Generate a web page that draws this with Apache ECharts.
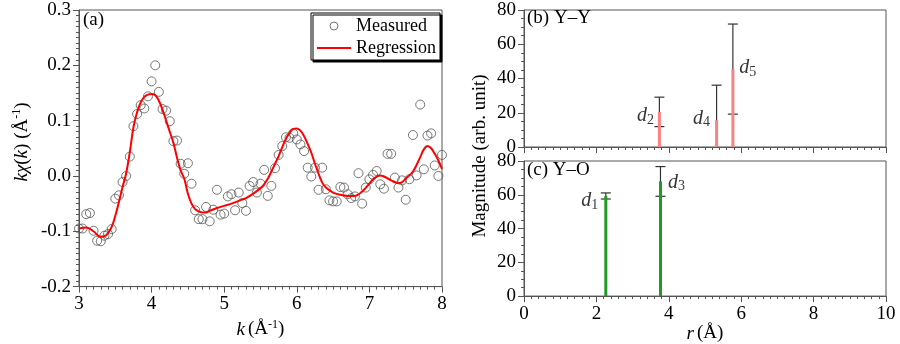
<!DOCTYPE html>
<html><head><meta charset="utf-8">
<script src="https://cdn.jsdelivr.net/npm/echarts@6/dist/echarts.min.js"></script>
<style>html,body{margin:0;padding:0;background:#fff}#c{width:900px;height:344px}</style>
</head><body><div id="c"></div>
<script>
// ---- data ----
const kMeasured = [3.00,3.05,3.10,3.15,3.20,3.25,3.30,3.35,3.40,3.45,3.50,3.55,3.60,3.65,3.70,3.75,3.80,3.85,3.90,3.95,
4.00,4.05,4.10,4.15,4.20,4.25,4.30,4.35,4.40,4.45,4.50,4.55,4.60,4.65,4.70,4.75,4.80,4.85,4.90,4.95,
5.00,5.05,5.10,5.15,5.20,5.25,5.30,5.35,5.40,5.45,5.50,5.55,5.60,5.65,5.70,5.75,5.80,5.85,5.90,5.95,
6.00,6.05,6.10,6.15,6.20,6.25,6.30,6.35,6.40,6.45,6.50,6.55,6.60,6.65,6.70,6.75,6.80,6.85,6.90,6.95,
7.00,7.05,7.10,7.15,7.20,7.25,7.30,7.35,7.40,7.45,7.50,7.55,7.60,7.65,7.70,7.75,7.80,7.85,7.90,7.95,8.00];
const chiMeasured = [-0.095,-0.095,-0.069,-0.067,-0.099,-0.117,-0.118,-0.108,-0.105,-0.096,-0.041,-0.035,-0.011,0.000,0.035,0.090,0.112,0.128,0.122,0.144,
0.171,0.200,0.152,0.121,0.118,0.099,0.063,0.064,0.022,0.004,0.023,-0.014,-0.062,-0.078,-0.078,-0.056,-0.082,-0.061,-0.025,-0.070,
-0.068,-0.037,-0.033,-0.062,-0.030,-0.049,-0.063,-0.018,-0.011,-0.030,-0.014,0.011,-0.036,-0.018,0.014,0.038,0.054,0.070,0.069,0.077,
0.066,0.057,0.045,0.015,-0.001,0.015,-0.025,0.015,-0.024,-0.044,-0.046,-0.046,-0.020,-0.021,-0.033,-0.040,-0.037,0.005,-0.050,-0.021,
-0.006,0.002,0.009,-0.015,-0.023,0.040,0.040,-0.003,-0.021,-0.008,-0.043,-0.006,0.074,0.001,0.129,0.012,0.073,0.077,0.019,0.000,0.038];
const kFit = [3.00,3.10,3.20,3.30,3.35,3.40,3.45,3.50,3.55,3.60,3.65,3.70,3.75,3.80,3.85,3.90,3.95,4.00,4.05,4.10,4.15,4.20,4.25,4.30,4.35,4.40,4.45,4.50,4.55,4.60,4.65,4.70,4.75,4.80,4.90,5.00,5.10,5.20,5.30,5.40,5.50,5.55,5.60,5.65,5.70,5.75,5.80,5.85,5.90,5.95,6.00,6.05,6.10,6.15,6.20,6.25,6.30,6.35,6.40,6.50,6.60,6.70,6.80,6.90,7.00,7.05,7.10,7.15,7.20,7.30,7.40,7.45,7.50,7.60,7.70,7.75,7.80,7.85,7.90,7.95,8.00];
const chiFit = [-0.095,-0.093,-0.100,-0.110,-0.109,-0.103,-0.092,-0.072,-0.047,-0.020,0.005,0.043,0.088,0.115,0.133,0.143,0.147,0.148,0.146,0.136,0.120,0.100,0.080,0.060,0.033,0.010,-0.005,-0.032,-0.050,-0.060,-0.064,-0.066,-0.066,-0.063,-0.058,-0.054,-0.050,-0.045,-0.040,-0.032,-0.022,-0.015,-0.005,0.008,0.022,0.036,0.052,0.067,0.078,0.085,0.086,0.082,0.072,0.058,0.042,0.022,0.004,-0.012,-0.021,-0.030,-0.034,-0.036,-0.036,-0.028,-0.014,-0.006,-0.001,0.001,-0.001,-0.008,-0.013,-0.011,-0.005,0.008,0.034,0.048,0.054,0.050,0.040,0.028,0.013];
const rYY = [3.74,5.32,5.77];
const magYY = [20.5,15.6,45.5];
const errYY = [8.6,20.5,26.3];
const labYY = ['2','4','5'];
const rYO = [2.26,3.77];
const magYO = [59.3,67.9];
const errYO = [1.8,8.8];
const labYO = ['1','3'];
const kTicks = [3,4,5,6,7,8];
const chiTicks = ['-0.2','-0.1','0.0','0.1','0.2','0.3'];
const rTicks = [0,2,4,6,8,10];
const magTicks = [0,20,40,60,80];

// ---- chart ----
const FF = '"Liberation Serif", "Times New Roman", serif';
const AX = '#555';
const chart = echarts.init(document.getElementById('c'), null, {renderer:'canvas'});
const measuredData = kMeasured.map((k,i)=>[k, chiMeasured[i]]);
const fitData = kFit.map((k,i)=>[k, chiFit[i]]);
const yyData = rYY.map((r,i)=>[r, magYY[i], errYY[i], labYY[i]]);
const yoData = rYO.map((r,i)=>[r, magYO[i], errYO[i], labYO[i]]);

function axisCommon(){
  return {
    axisLine:{show:true, onZero:false, lineStyle:{color:AX, width:1}},
    axisTick:{show:true, inside:false, length:6, lineStyle:{color:AX}},
    minorTick:{show:true, length:3, lineStyle:{color:AX}},
    splitLine:{show:false},
    axisLabel:{fontFamily:FF, fontSize:19, color:'#000'}
  };
}
const subRich = {
  d:{fontFamily:FF, fontStyle:'italic', fontSize:20, color:'#000', lineHeight:22},
  s:{fontFamily:FF, fontSize:14, color:'#000', lineHeight:12, verticalAlign:'bottom'}
};
function errRender(params, api){
  const x = api.value(0), v = api.value(1), e = api.value(2);
  const hi = v + e, lo = v - e;
  const pHi = api.coord([x, hi]);
  const pLo = api.coord([x, Math.max(lo, 0)]);
  const cw = 5;
  const st = {stroke:'#333', lineWidth:1.2};
  const ch = [
    {type:'line', shape:{x1:pHi[0], y1:pHi[1], x2:pLo[0], y2:pLo[1]}, style:st},
    {type:'line', shape:{x1:pHi[0]-cw, y1:pHi[1], x2:pHi[0]+cw, y2:pHi[1]}, style:st}
  ];
  if (lo > 0) ch.push({type:'line', shape:{x1:pLo[0]-cw, y1:pLo[1], x2:pLo[0]+cw, y2:pLo[1]}, style:st});
  return {type:'group', children:ch};
}

const xa0 = Object.assign(axisCommon(), {gridIndex:0, type:'value', min:kTicks[0], max:kTicks[kTicks.length-1], interval:1,
  minorTick:{show:true, splitNumber:10, length:3, lineStyle:{color:AX}},
  name:'{i|k} {n|(Å}{sup|-1}{n|)}', nameLocation:'middle', nameGap:26,
  nameTextStyle:{rich:{
    i:{fontFamily:FF, fontStyle:'italic', fontSize:19, color:'#000', lineHeight:22},
    n:{fontFamily:FF, fontSize:19, color:'#000', lineHeight:22},
    sup:{fontFamily:FF, fontSize:12, color:'#000', lineHeight:10, verticalAlign:'top'}}}});
const xa1 = Object.assign(axisCommon(), {gridIndex:1, type:'value', min:rTicks[0], max:rTicks[rTicks.length-1], interval:2,
  minorTick:{show:true, splitNumber:10, length:3, lineStyle:{color:AX}}});
xa1.axisLabel = {show:false};
const xa2 = Object.assign(axisCommon(), {gridIndex:2, type:'value', min:rTicks[0], max:rTicks[rTicks.length-1], interval:2,
  minorTick:{show:true, splitNumber:10, length:3, lineStyle:{color:AX}},
  name:'{i|r} {n|(Å)}', nameLocation:'middle', nameGap:26,
  nameTextStyle:{rich:{
    i:{fontFamily:FF, fontStyle:'italic', fontSize:19, color:'#000', lineHeight:22},
    n:{fontFamily:FF, fontSize:19, color:'#000', lineHeight:22}}}});
const ya0 = Object.assign(axisCommon(), {gridIndex:0, type:'value', min:Number(chiTicks[0]), max:Number(chiTicks[chiTicks.length-1]), interval:0.1,
  minorTick:{show:true, splitNumber:10, length:3, lineStyle:{color:AX}}});
ya0.axisLabel = {fontFamily:FF, fontSize:19, color:'#000', formatter:v=>v.toFixed(1)};
const ya1 = Object.assign(axisCommon(), {gridIndex:1, type:'value', min:magTicks[0], max:magTicks[magTicks.length-1], interval:20,
  minorTick:{show:true, splitNumber:4, length:3, lineStyle:{color:AX}}});
const ya2 = Object.assign(axisCommon(), {gridIndex:2, type:'value', min:magTicks[0], max:magTicks[magTicks.length-1], interval:20,
  minorTick:{show:true, splitNumber:4, length:3, lineStyle:{color:AX}}});

const option = {
  animation:false,
  backgroundColor:'#fff',
  textStyle:{fontFamily:FF},
  grid:[
    {left:79, top:10, width:363, height:288, show:true, borderColor:AX, borderWidth:1, backgroundColor:'transparent'},
    {left:524, top:10, width:362, height:137, show:true, borderColor:AX, borderWidth:1, backgroundColor:'transparent'},
    {left:524, top:161, width:362, height:137, show:true, borderColor:AX, borderWidth:1, backgroundColor:'transparent'}
  ],
  xAxis:[xa0, xa1, xa2],
  yAxis:[ya0, ya1, ya2],
  legend:{
    data:[
      {name:'Measured', icon:'circle', itemStyle:{color:'#fff', borderColor:'#555', borderWidth:1}},
      {name:'Regression', icon:'path://M0,0 L34,0 L34,2.2 L0,2.2 Z', itemStyle:{color:'#ff0000'}}
    ],
    orient:'vertical', left:311, top:13,
    itemWidth:34, itemHeight:8, itemGap:4,
    padding:[4,4,3,6],
    backgroundColor:'#fff', borderColor:'#000', borderWidth:1,
    shadowColor:'#000', shadowOffsetX:2, shadowOffsetY:2, shadowBlur:0.1,
    textStyle:{fontFamily:FF, fontSize:18, color:'#000'}
  },
  graphic:[
    {type:'text', left:83, top:11, style:{text:'(a)', font:'19px "Liberation Serif"', fill:'#000'}},
    {type:'text', left:527, top:9, style:{text:'(b) Y–Y', font:'19px "Liberation Serif"', fill:'#000'}},
    {type:'text', left:527, top:161, style:{text:'(c) Y–O', font:'19px "Liberation Serif"', fill:'#000'}},
    {type:'text', x:22, y:142, rotation:Math.PI/2, style:{
      text:'{i|kχ}{n|(}{i|k}{n|) (Å}{sup|-1}{n|)}', align:'center', verticalAlign:'middle',
      rich:{
        i:{fontFamily:FF, fontStyle:'italic', fontSize:19, fill:'#000', lineHeight:22},
        n:{fontFamily:FF, fontSize:19, fill:'#000', lineHeight:22},
        sup:{fontFamily:FF, fontSize:12, fill:'#000', lineHeight:10, verticalAlign:'top'}}}},
    {type:'text', x:480, y:156, rotation:Math.PI/2, style:{
      text:'Magnitude (arb. unit)', align:'center', verticalAlign:'middle',
      font:'19px "Liberation Serif"', fill:'#000'}}
  ],
  series:[
    {type:'scatter', name:'Measured', xAxisIndex:0, yAxisIndex:0, data:measuredData,
      symbol:'circle', symbolSize:9,
      itemStyle:{color:'rgba(255,255,255,0)', borderColor:'#555', borderWidth:1}, z:3},
    {type:'line', name:'Regression', xAxisIndex:0, yAxisIndex:0, data:fitData,
      smooth:0.4, showSymbol:false, symbol:'none',
      lineStyle:{color:'#ff0000', width:2}, itemStyle:{color:'#ff0000'}, z:4},
    {type:'custom', xAxisIndex:1, yAxisIndex:1, data:yyData, renderItem:errRender, z:2, encode:{x:0,y:1}},
    {type:'bar', xAxisIndex:1, yAxisIndex:1, data:yyData.map(d=>[d[0],d[1]]), barWidth:3,
      itemStyle:{color:'#ff8080'}, z:3},
    {type:'scatter', xAxisIndex:1, yAxisIndex:1, data:yyData, symbolSize:0, z:5,
      label:{show:true, position:'inside', formatter:p=>'{d|d}{s|'+p.value[3]+'}', rich:subRich}},
    {type:'custom', xAxisIndex:2, yAxisIndex:2, data:yoData, renderItem:errRender, z:2, encode:{x:0,y:1}},
    {type:'bar', xAxisIndex:2, yAxisIndex:2, data:yoData.map(d=>[d[0],d[1]]), barWidth:3,
      itemStyle:{color:'#1f9a24'}, z:3},
    {type:'scatter', xAxisIndex:2, yAxisIndex:2, data:yoData, symbolSize:0, z:5,
      label:{show:true, position:'inside', formatter:p=>'{d|d}{s|'+p.value[3]+'}', rich:subRich}}
  ]
};
// label offsets (annotation placement relative to each bar top)
const offYY = [[-14,4],[-15,-2],[15,-1]];
const offYO = [[-16,5],[16,1]];
option.series[4].data = yyData.map((d,i)=>({value:d, label:{offset:offYY[i]}}));
option.series[7].data = yoData.map((d,i)=>({value:d, label:{offset:offYO[i]}}));
chart.setOption(option);
</script></body></html>
